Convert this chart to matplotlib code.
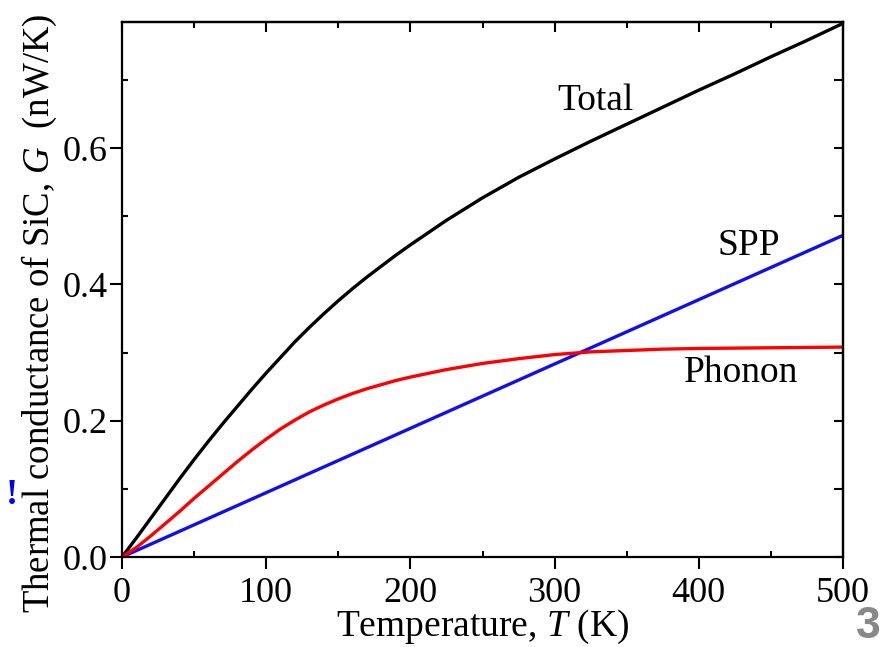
import matplotlib
matplotlib.use("Agg")
import matplotlib.pyplot as plt
from matplotlib.ticker import MultipleLocator

plt.rcParams['font.family'] = ['Liberation Serif', 'DejaVu Serif']
plt.rcParams['mathtext.fontset'] = 'custom'
plt.rcParams['mathtext.rm'] = 'Liberation Serif'
plt.rcParams['mathtext.it'] = 'Liberation Serif:italic'

T = [0, 10, 20, 30, 40, 50, 60, 70, 80, 90, 100, 110, 120, 130, 140, 150, 160, 170, 180, 190,
     200, 225, 250, 275, 300, 325, 350, 375, 400, 425, 450, 475, 500]
G_total = [0, 0.028, 0.057, 0.086, 0.115, 0.143, 0.170, 0.196, 0.221, 0.246, 0.270, 0.293,
           0.316, 0.337, 0.357, 0.376, 0.394, 0.411, 0.427, 0.443, 0.458, 0.494, 0.527,
           0.557, 0.584, 0.610, 0.635, 0.660, 0.685, 0.709, 0.734, 0.758, 0.783]
G_phonon = [0, 0.014, 0.031, 0.049, 0.067, 0.086, 0.104, 0.122, 0.140, 0.157, 0.173, 0.188,
            0.201, 0.213, 0.223, 0.232, 0.240, 0.247, 0.253, 0.259, 0.264, 0.275, 0.284,
            0.291, 0.297, 0.301, 0.303, 0.305, 0.306, 0.3065, 0.307, 0.3075, 0.308]
T_spp = [0, 500]
G_spp = [0, 0.472]

labels = ["Total", "SPP", "Phonon"]

fig = plt.figure(figsize=(8.82, 6.47), dpi=100)
ax = fig.add_axes([122 / 882, 1 - 557 / 647, 721 / 882, 535 / 647])

ax.plot(T, G_total, color='black', lw=2.4)
ax.plot(T_spp, G_spp, color='#1010ee', lw=2.4)
ax.plot(T, G_phonon, color='#ff0000', lw=2.4)

ax.set_xlim(0, 500)
ax.set_ylim(0, 0.785)
ax.xaxis.set_major_locator(MultipleLocator(100))
ax.xaxis.set_minor_locator(MultipleLocator(50))
ax.yaxis.set_major_locator(MultipleLocator(0.2))
ax.yaxis.set_minor_locator(MultipleLocator(0.1))
ax.yaxis.set_major_formatter(plt.FuncFormatter(lambda v, p: f"{v:.1f}"))

for s in ax.spines.values():
    s.set_linewidth(1.6)

ax.tick_params(which='major', direction='out', length=8.6, width=1.5, labelsize=26,
               top=False, right=False)
ax.tick_params(axis='x', which='major', pad=6)
ax.tick_params(axis='y', which='major', pad=1.5)
ax.tick_params(which='minor', direction='in', length=4.5, width=1.5, top=False, right=False)

ax2 = ax.secondary_xaxis('top')
ax2.xaxis.set_major_locator(MultipleLocator(100))
ax2.xaxis.set_minor_locator(MultipleLocator(50))
ax2.tick_params(which='major', direction='in', length=7.5, width=1.5, labeltop=False)
ax2.tick_params(which='minor', direction='in', length=4.5, width=1.5)
ax2.spines['top'].set_linewidth(1.6)
ax3 = ax.secondary_yaxis('right')
ax3.yaxis.set_major_locator(MultipleLocator(0.1))
ax3.tick_params(which='major', direction='in', length=6.5, width=1.5, labelright=False)
ax3.spines['right'].set_linewidth(1.6)

ax.set_xlabel("Temperature, $T$ (K)", fontsize=27, labelpad=-2)
ax.set_ylabel("Thermal conductance of SiC, $G$  (nW/K)", fontsize=26.5, labelpad=3)
ax.yaxis.label.set_y(0.455)

ax.text(328, 0.670, labels[0], fontsize=27, ha='center', va='center')
ax.text(435, 0.457, labels[1], fontsize=27, ha='center', va='center')
ax.text(429, 0.270, labels[2], fontsize=27, ha='center', va='center')

fig.text(12 / 882, 1 - 495 / 647, "!", color='blue', fontsize=26, fontweight='bold',
         ha='center', va='center')
fig.text(881 / 882, 1 - 627 / 647, "3", color='#888888', fontsize=32, fontweight='bold',
         family='Liberation Sans', ha='right', va='center')

fig.savefig("out.png", dpi=100)
